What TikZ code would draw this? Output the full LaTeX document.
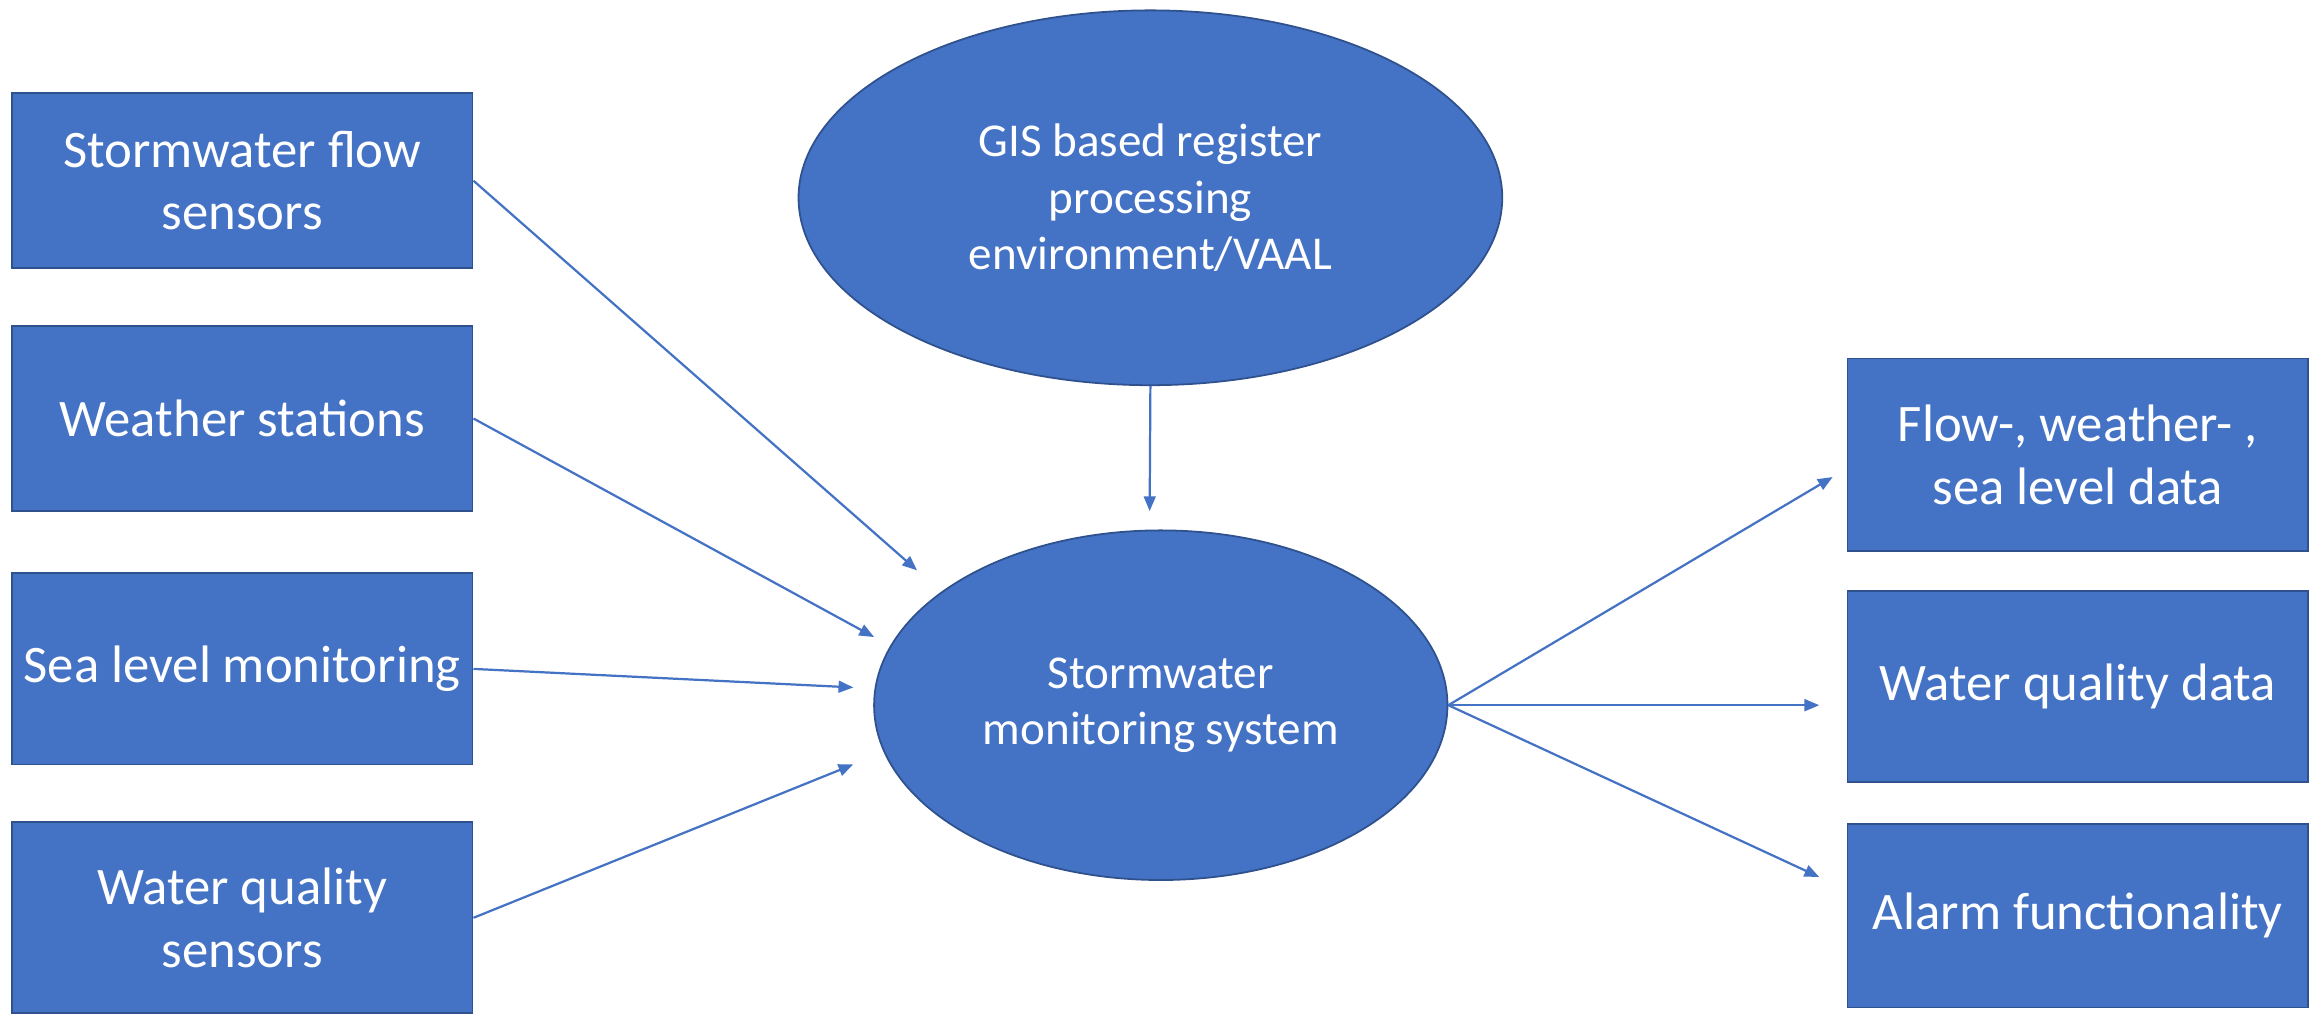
\documentclass[tikz,border=0pt]{standalone}
\usepackage{fontspec}
\setmainfont{Carlito}
\usetikzlibrary{shapes.geometric,arrows.meta}
\definecolor{offblue}{HTML}{4472C4}
\definecolor{edgeblue}{HTML}{2F528F}
\begin{document}
\begin{tikzpicture}[x=0.5pt,y=-0.5pt,
    box/.style={rectangle, draw=edgeblue, line width=0.6pt, fill=offblue, text=white,
        minimum width=155.5pt, inner sep=0pt, align=center,
        font=\fontsize{17.8}{21}\selectfont},
    blob/.style={ellipse, draw=edgeblue, line width=0.6pt, fill=offblue, text=white,
        inner sep=0pt, align=center, font=\fontsize{15.9}{19}\selectfont},
    link/.style={offblue, line width=0.75pt, -{Triangle[length=5pt,width=4pt]}}]

    \useasboundingbox (0,0) rectangle (1568,684);

    % inputs
    \node[box, minimum height=59pt]   (flow)  at (163.5,122)   {Stormwater flow\\sensors};
    \node[box, minimum height=62.5pt] (wthr)  at (163.5,282.5) {Weather stations};
    \node[box, minimum height=64.5pt] (sea)   at (163.5,451.5) {Sea level monitoring};
    \node[box, minimum height=64.5pt] (qual)  at (163.5,619.5) {Water quality\\sensors};

    % register and core system
    \node[blob, minimum width=237.5pt, minimum height=126.5pt] (gis)  at (776.5,133.5)
        {GIS based register\\processing\\environment/VAAL};
    \node[blob, minimum width=193.5pt, minimum height=118pt]   (core) at (783.5,476)
        {Stormwater\\monitoring system};

    % outputs
    \node[box, minimum height=65pt]   (odata) at (1402.5,307)   {Flow-, weather- ,\\sea level data};
    \node[box, minimum height=64.5pt] (oqual) at (1402.5,463.5) {Water quality data};
    \node[box, minimum height=62pt]   (alarm) at (1402.5,618)   {Alarm functionality};

    % arrow tips
    \coordinate (t1) at (619,385);
    \coordinate (t2) at (590,430);
    \coordinate (t3) at (576,464);
    \coordinate (t4) at (576,516);
    \coordinate (t5) at (776,345);
    \coordinate (r1) at (1237,322);
    \coordinate (r2) at (1228,476);
    \coordinate (r3) at (1228,592);

    \draw[link] (flow.east) -- (t1);
    \draw[link] (wthr.east) -- (t2);
    \draw[link] (sea.east)  -- (t3);
    \draw[link] (qual.east) -- (t4);
    \draw[link] (gis.south) -- (t5);
    \draw[link] (core.east) -- (r1);
    \draw[link] (core.east) -- (r2);
    \draw[link] (core.east) -- (r3);

\end{tikzpicture}
\end{document}
